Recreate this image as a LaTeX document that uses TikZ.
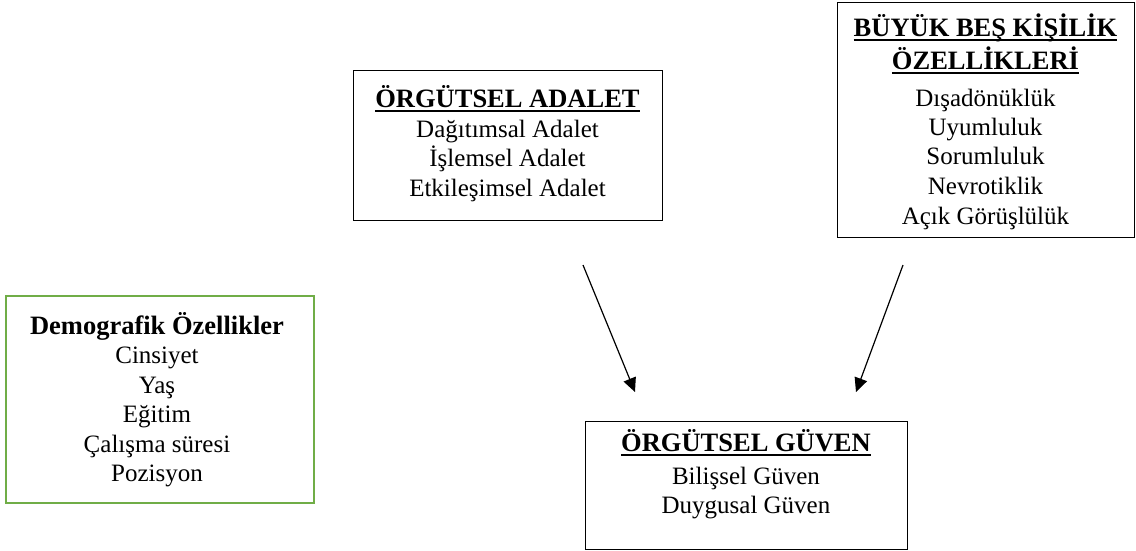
\documentclass[tikz,border=0pt]{standalone}
\usepackage{fontspec}
\setmainfont{Liberation Serif}
\usetikzlibrary{arrows.meta}
\definecolor{boxgreen}{HTML}{70AD47}
\newcommand{\boldtitle}{\fontsize{26.5}{29.5}\selectfont\bfseries}
\newcommand{\titleul}[1]{\setbox0\hbox{\boldtitle #1}\rlap{\rule[-4.5pt]{\wd0}{1.8pt}}\box0}
\begin{document}
\begin{tikzpicture}[x=1pt,y=-1pt,
  frame/.style={draw=black, line width=1.4pt, inner sep=0pt, anchor=north west},
  txt/.style={align=center, font=\fontsize{25}{29.5}\selectfont, inner sep=0pt},
  arr/.style={-{Triangle[length=14pt,width=13pt]}, line width=1.2pt}]
\useasboundingbox (0,0) rectangle (1136,550);
% boxes
\node[frame, minimum width=309pt, minimum height=150pt] (adalet) at (353,70) {};
\node[frame, minimum width=297pt, minimum height=235pt] (bes) at (837,2) {};
\node[frame, draw=boxgreen, line width=2pt, minimum width=308pt, minimum height=207pt] (demo) at (5,295) {};
\node[frame, minimum width=322pt, minimum height=127.5pt] (guven) at (585,421) {};
% texts
\node[txt] (adalettxt) at (507.5,143.5) {\titleul{ÖRGÜTSEL ADALET}\\ Dağıtımsal Adalet\\ İşlemsel Adalet\\ Etkileşimsel Adalet};
\node[txt] (bestxt) at (985.5,121.3) {\titleul{BÜYÜK BEŞ KİŞİLİK}\\[3.5pt] \titleul{ÖZELLİKLERİ}\\[7.5pt] Dışadönüklük\\ Uyumluluk\\ Sorumluluk\\ Nevrotiklik\\ Açık Görüşlülük};
\node[txt] (demotxt) at (157,399.5) {{\boldtitle Demografik Özellikler}\\ Cinsiyet\\ Yaş\\ Eğitim\\ Çalışma süresi\\ Pozisyon};
\node[txt] (guventxt) at (746,474) {\titleul{ÖRGÜTSEL GÜVEN}\\[3.5pt] Bilişsel Güven\\ Duygusal Güven};
% arrows
\coordinate (a1s) at (583,265);
\coordinate (a1e) at (635,392);
\coordinate (a2s) at (903,265);
\coordinate (a2e) at (856,392);
\draw[arr] (a1s) -- (a1e);
\draw[arr] (a2s) -- (a2e);
\end{tikzpicture}
\end{document}
